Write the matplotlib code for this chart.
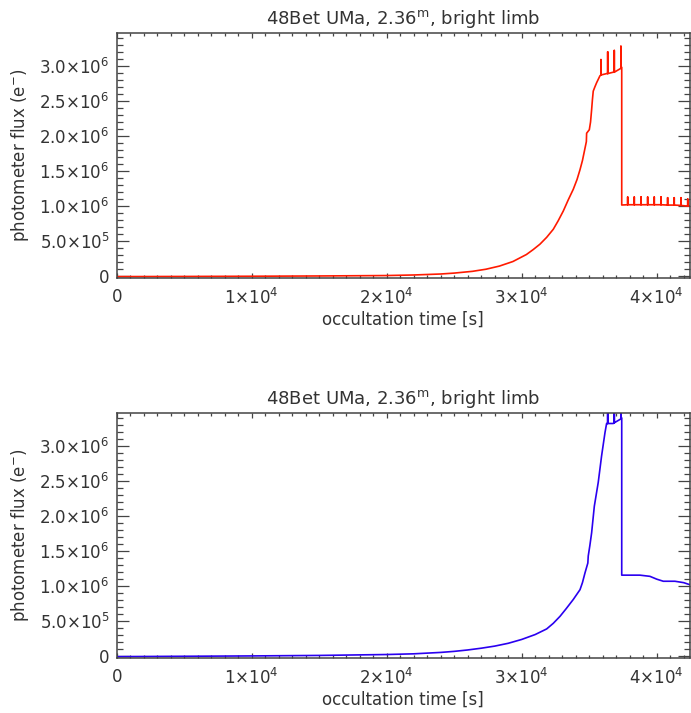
import matplotlib
matplotlib.use("Agg")
import matplotlib.pyplot as plt
from matplotlib.ticker import MultipleLocator

plt.rcParams['font.family'] = ['DejaVu Sans']
plt.rcParams['mathtext.default'] = 'regular'

# occultation time [s] and photometer flux [e-] for the red (top) panel
# spikes are stored as (t, base), (t, peak), (t, base)
t_red = [0, 5000, 10000, 15000, 20000, 22000, 24000, 25000, 26350, 27350,
         28350, 29350, 30350, 30850, 31350, 31850, 32340, 32700, 33080, 33450,
         33820, 34100, 34320, 34500, 34640,
         34790, 34810, 35010, 35100, 35180, 35240, 35300, 35420, 35550, 35800,
         35870, 35870, 35870, 36290, 36370, 36370, 36370, 36780,
         36860, 36860, 36860, 37300, 37350, 37350, 37350, 37410, 37410,
         37850, 37850, 37850, 38340, 38340, 38340, 38840, 38840, 38840,
         39330, 39330, 39330, 39820, 39820, 39820, 40320, 40320, 40320,
         40810, 40810, 40810, 41300, 41300, 41300, 41800, 41800, 41800,
         42300, 42300, 42300, 42470]
f_red = [-5e3, -3e3, 0, 4e3, 1.0e4, 1.8e4, 3.2e4, 4.5e4, 7.0e4, 1.0e5,
         1.45e5, 2.1e5, 3.1e5, 3.8e5, 4.57e5, 5.55e5, 6.7e5, 7.9e5, 9.3e5, 1.09e6,
         1.24e6, 1.38e6, 1.52e6, 1.65e6, 1.78e6,
         1.92e6, 2.04e6, 2.09e6, 2.2e6, 2.375e6, 2.52e6, 2.64e6, 2.7e6, 2.76e6, 2.86e6,
         2.87e6, 3.09e6, 2.87e6, 2.89e6, 2.89e6, 3.20e6, 2.89e6, 2.91e6,
         2.91e6, 3.22e6, 2.91e6, 2.96e6, 2.97e6, 3.28e6, 2.97e6, 2.98e6, 1.016e6,
         1.02e6, 1.13e6, 1.02e6, 1.02e6, 1.13e6, 1.02e6, 1.02e6, 1.13e6, 1.02e6,
         1.02e6, 1.13e6, 1.02e6, 1.02e6, 1.13e6, 1.02e6, 1.02e6, 1.13e6, 1.02e6,
         1.015e6, 1.12e6, 1.015e6, 1.015e6, 1.12e6, 1.015e6, 1.01e6, 1.12e6, 1.01e6,
         1.0e6, 1.1e6, 1.0e6, 1.0e6]

# blue (bottom) panel
t_blue = [0, 5000, 10000, 15000, 20000, 22000, 24000, 25000, 26000, 27000,
          28000, 29000, 30000, 31000, 31850, 32340, 32840, 33300, 33820, 34320,
          34500, 34690, 34900, 34930, 35050, 35180, 35380, 35670, 35920, 36170,
          36290, 36370, 36370, 36370, 36780, 36860, 36860, 36860, 37300,
          37350, 37350, 37350, 37410, 37410, 38760, 39500, 40000, 40490,
          41350, 42000, 42470]
f_blue = [-5e3, 0, 5e3, 1.2e4, 2.5e4, 3.5e4, 5.5e4, 7.0e4, 9.0e4, 1.15e5,
          1.45e5, 1.85e5, 2.4e5, 3.1e5, 3.9e5, 4.7e5, 5.7e5, 6.8e5, 8.1e5, 9.5e5,
          1.05e6, 1.19e6, 1.33e6, 1.43e6, 1.58e6, 1.76e6, 2.14e6, 2.48e6, 2.86e6,
          3.19e6, 3.32e6, 3.32e6, 3.7e6, 3.32e6, 3.32e6, 3.33e6, 3.7e6, 3.33e6,
          3.38e6, 3.39e6, 3.7e6, 3.39e6, 3.40e6, 1.157e6, 1.157e6, 1.14e6,
          1.10e6, 1.07e6, 1.07e6, 1.05e6, 1.02e6]

x_ticks = [0, 1e4, 2e4, 3e4, 4e4]
x_labels = ['0', r'1$\times$10$^4$', r'2$\times$10$^4$', r'3$\times$10$^4$', r'4$\times$10$^4$']
y_ticks = [0, 5e5, 1e6, 1.5e6, 2e6, 2.5e6, 3e6]
y_labels = ['0', r'5.0$\times$10$^5$', r'1.0$\times$10$^6$', r'1.5$\times$10$^6$',
            r'2.0$\times$10$^6$', r'2.5$\times$10$^6$', r'3.0$\times$10$^6$']
title = r'48Bet UMa, 2.36$^{m}$, bright limb'

fig = plt.figure(figsize=(6.91, 7.13), dpi=100)
ax1 = fig.add_axes([0.1689, 0.6101, 0.8297, 0.3432])
ax2 = fig.add_axes([0.1689, 0.0771, 0.8297, 0.3432])

txt = '#333333'
for ax, t, f, c in [(ax1, t_red, f_red, '#ff1a00'), (ax2, t_blue, f_blue, '#2a00f0')]:
    ax.plot(t, f, color=c, lw=1.2)
    ax.set_xlim(0, 42470)
    ax.set_ylim(-2.5e4, 3.465e6)
    ax.set_xticks(x_ticks)
    ax.set_xticklabels(x_labels)
    ax.set_yticks(y_ticks)
    ax.set_yticklabels(y_labels)
    ax.xaxis.set_minor_locator(MultipleLocator(1000))
    ax.yaxis.set_minor_locator(MultipleLocator(1e5))
    ax.tick_params(direction='in', top=True, right=True, which='both',
                   color='#444444', labelcolor=txt, labelsize=12, width=0.9)
    ax.tick_params(axis='x', which='major', length=3.8, pad=7)
    ax.tick_params(axis='x', which='minor', length=2.2)
    ax.tick_params(axis='y', which='major', length=8.3, pad=5)
    ax.tick_params(axis='y', which='minor', length=4.3)
    for s in ax.spines.values():
        s.set_color('#444444')
        s.set_linewidth(1.1)
    ax.set_title(title, fontsize=13, color=txt, pad=7)
    ax.set_xlabel('occultation time [s]', fontsize=12, color=txt, labelpad=2)
    ax.set_ylabel(r'photometer flux (e$^{-}$)', fontsize=12, color=txt, labelpad=6)

fig.savefig('out.png', dpi=100)
